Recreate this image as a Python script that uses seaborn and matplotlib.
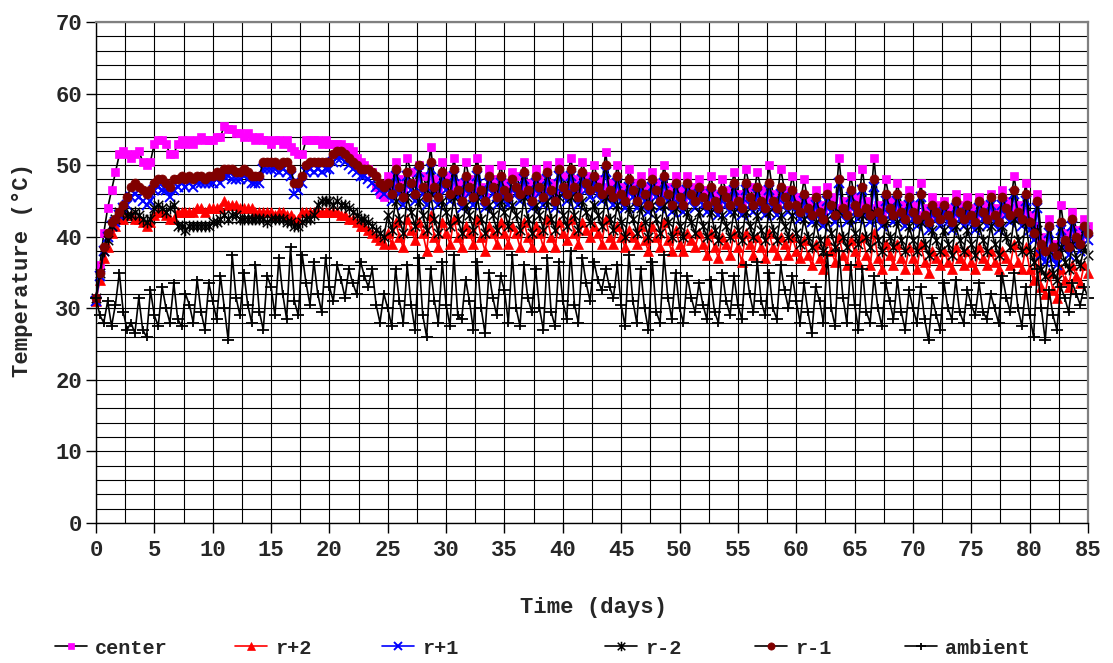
import numpy as np
import pandas as pd
import matplotlib
matplotlib.use("Agg")
import matplotlib.pyplot as plt
from matplotlib.path import Path
from matplotlib.ticker import MultipleLocator
import seaborn as sns

# Readings taken every 8 hours (3 per day) over 85 days, in deg C
SAMPLES_PER_DAY = 3

center = [
    31.5, 36.0, 40.5, 44.0, 46.5, 49.0, 51.5, 52.0, 51.5, 51.0, 51.5, 52.0,
    50.5, 50.0, 50.5, 53.0, 53.5, 53.5, 53.0, 51.5, 51.5, 53.0, 53.5, 53.0,
    53.5, 53.0, 53.5, 54.0, 53.5, 53.5, 53.5, 54.0, 54.0, 55.5, 55.0, 55.0,
    54.5, 54.5, 54.0, 54.5, 54.0, 53.5, 54.0, 53.5, 53.5, 53.0, 53.5, 53.5,
    53.0, 53.5, 52.5, 52.0, 51.5, 51.5, 53.5, 53.5, 53.5, 53.5, 53.0, 53.5,
    53.0, 53.0, 53.0, 53.0, 52.5, 52.5, 52.0, 51.0, 50.5, 50.0, 49.5, 49.0,
    47.0, 46.0, 45.5, 48.5, 47.0, 50.5, 48.0, 46.5, 51.0, 49.0, 47.5, 50.0,
    48.5, 47.0, 52.5, 48.0, 46.5, 50.5, 48.5, 47.0, 51.0, 47.5, 46.0, 50.5,
    48.0, 46.5, 51.0, 47.0, 45.5, 49.5, 48.0, 46.5, 50.0, 47.5, 46.5, 49.0,
    48.5, 47.0, 50.5, 47.5, 46.0, 49.5, 48.0, 46.5, 50.0, 47.5, 46.0, 50.5,
    48.5, 47.0, 51.0, 48.0, 46.5, 50.5, 48.5, 47.5, 50.0, 48.0, 47.0, 51.8,
    47.5, 46.5, 50.0, 47.0, 46.0, 49.5, 47.5, 46.0, 48.5, 47.0, 45.5, 49.0,
    47.5, 46.0, 50.0, 47.0, 45.5, 48.5, 46.5, 45.5, 48.5, 47.0, 46.0, 48.0,
    46.5, 45.5, 48.5, 46.0, 45.0, 48.0, 46.5, 45.5, 49.0, 46.0, 45.0, 49.5,
    47.0, 45.5, 49.0, 46.5, 45.5, 50.0, 46.0, 45.0, 49.5, 46.5, 45.5, 48.5,
    45.5, 44.5, 48.0, 45.0, 44.0, 46.5, 44.5, 43.5, 47.0, 45.5, 44.0, 51.0,
    45.0, 44.0, 48.5, 45.5, 44.5, 49.5, 45.0, 44.0, 51.0, 44.5, 43.5, 48.0,
    45.0, 44.0, 47.5, 44.5, 43.5, 46.5, 44.5, 43.0, 47.5, 44.0, 43.0, 45.5,
    44.5, 43.5, 45.0, 44.0, 43.0, 46.0, 44.5, 43.5, 45.5, 44.0, 43.0, 45.5,
    44.5, 43.5, 46.0, 44.0, 43.0, 46.5, 45.0, 44.0, 48.5, 44.5, 43.5, 47.5,
    43.0, 41.5, 46.0, 40.0, 38.0, 42.5, 39.0, 38.0, 44.5, 40.5, 39.0, 43.5,
    41.0, 40.0, 42.5, 41.5,
]

r_plus_2 = [
    31.0, 34.0, 37.0, 38.5, 40.5, 41.5, 42.5, 42.5, 43.0, 43.0, 42.5, 42.5,
    42.0, 41.5, 42.0, 43.0, 43.5, 43.5, 43.0, 42.5, 42.5, 43.5, 43.5, 43.5,
    43.5, 43.5, 44.0, 44.0, 43.5, 44.0, 44.0, 44.0, 44.0, 45.0, 44.5, 44.5,
    44.5, 44.0, 44.0, 44.0, 44.0, 43.5, 43.5, 43.5, 43.5, 43.5, 43.0, 43.5,
    43.5, 43.0, 43.0, 42.5, 42.5, 43.5, 43.5, 43.5, 43.5, 43.5, 43.5, 43.5,
    43.5, 43.5, 43.5, 43.0, 43.0, 42.5, 42.5, 42.0, 41.5, 41.5, 41.0, 40.5,
    40.0, 39.5, 39.0, 40.5, 39.0, 42.0, 40.0, 38.5, 42.5, 41.0, 39.5, 42.0,
    40.5, 38.0, 43.0, 40.0, 38.5, 42.0, 40.5, 39.0, 42.5, 40.0, 38.5, 41.5,
    40.5, 39.0, 42.5, 40.0, 38.0, 41.5, 40.5, 39.0, 42.0, 40.5, 39.0, 41.5,
    40.5, 38.5, 42.0, 40.0, 38.5, 41.5, 40.5, 38.5, 42.5, 40.0, 38.5, 42.0,
    40.5, 39.5, 42.5, 40.5, 39.0, 42.0, 41.0, 40.0, 41.5, 40.5, 39.0, 42.5,
    40.0, 39.0, 41.5, 40.0, 38.5, 41.0, 40.0, 39.0, 41.5, 39.5, 38.0, 41.5,
    40.0, 38.5, 42.0, 39.5, 38.0, 41.0, 39.0, 38.0, 40.5, 39.5, 38.5, 40.5,
    39.0, 37.5, 40.5, 38.5, 37.0, 40.0, 39.0, 37.5, 40.5, 38.5, 36.5, 40.5,
    39.0, 37.5, 40.0, 38.5, 37.0, 40.5, 38.5, 37.5, 40.0, 39.0, 37.5, 40.0,
    38.0, 37.0, 39.5, 37.5, 36.0, 39.0, 37.0, 35.5, 39.5, 38.0, 36.5, 40.0,
    37.5, 36.0, 39.5, 38.0, 36.5, 40.0, 37.5, 36.0, 40.5, 37.0, 35.5, 39.0,
    37.5, 36.0, 39.0, 37.0, 35.5, 38.5, 37.0, 35.5, 39.0, 36.5, 35.0, 38.0,
    37.0, 36.0, 38.0, 36.5, 35.5, 38.5, 37.0, 36.0, 38.0, 36.5, 35.5, 38.5,
    37.0, 36.0, 38.0, 36.5, 35.5, 38.0, 37.0, 36.0, 39.0, 36.5, 35.5, 38.5,
    35.5, 34.0, 38.0, 33.0, 32.0, 35.0, 32.5, 31.5, 35.5, 34.0, 33.0, 36.0,
    34.5, 33.5, 36.0, 35.0,
]

r_plus_1 = [
    31.0, 34.5, 38.0, 40.0, 41.5, 42.0, 43.0, 44.0, 44.5, 45.5, 46.0, 45.5,
    45.0, 44.5, 45.0, 46.5, 47.0, 46.5, 46.5, 45.5, 46.5, 47.0, 47.5, 47.0,
    47.5, 47.0, 47.5, 47.5, 47.5, 47.5, 47.5, 48.0, 47.5, 48.5, 48.5, 48.0,
    48.0, 48.0, 48.5, 48.0, 47.5, 47.5, 47.5, 49.5, 49.5, 49.5, 49.5, 49.0,
    49.5, 49.0, 48.5, 46.0, 46.5, 47.5, 49.0, 49.5, 49.0, 49.5, 49.0, 49.5,
    49.5, 50.5, 51.0, 51.0, 50.5, 50.0, 49.5, 49.0, 48.5, 48.5, 48.0, 47.5,
    47.0, 46.5, 46.0, 46.5, 45.0, 48.5, 46.0, 44.5, 48.5, 46.5, 45.0, 49.0,
    46.0, 44.5, 49.5, 46.0, 44.5, 48.0, 46.5, 45.0, 48.5, 45.5, 44.0, 47.5,
    46.0, 44.5, 48.5, 45.5, 44.0, 47.5, 46.0, 44.5, 47.5, 45.5, 44.5, 47.0,
    46.0, 45.0, 48.0, 45.5, 44.0, 47.5, 46.0, 44.5, 48.0, 45.5, 44.0, 48.5,
    46.0, 45.0, 48.5, 46.0, 44.5, 48.0, 46.5, 45.5, 47.5, 46.0, 45.0, 49.0,
    45.5, 44.5, 47.5, 45.0, 44.0, 47.0, 45.5, 44.0, 46.5, 45.0, 43.5, 47.0,
    45.5, 44.0, 47.5, 45.0, 43.5, 46.5, 44.5, 43.5, 46.5, 45.0, 44.0, 46.0,
    44.5, 43.5, 46.0, 44.0, 43.0, 45.5, 44.5, 43.5, 46.5, 44.0, 43.0, 46.5,
    44.5, 43.5, 46.0, 44.0, 43.0, 46.5, 44.0, 43.0, 46.0, 44.5, 43.5, 45.5,
    43.5, 42.5, 45.0, 43.0, 42.0, 44.5, 42.5, 41.5, 45.0, 43.5, 42.0, 47.5,
    43.0, 42.0, 45.5, 43.5, 42.5, 46.5, 43.0, 42.0, 47.0, 42.5, 41.5, 45.0,
    43.0, 42.0, 45.0, 42.5, 41.5, 44.5, 42.5, 41.5, 45.5, 42.0, 41.0, 43.5,
    42.5, 41.5, 43.5, 42.0, 41.0, 44.0, 42.5, 41.5, 43.5, 42.0, 41.0, 44.0,
    42.5, 41.5, 44.5, 42.0, 41.0, 44.5, 43.0, 42.0, 46.0, 42.5, 41.5, 45.0,
    41.0, 39.5, 44.0, 37.5, 36.5, 40.5, 37.0, 36.0, 41.0, 38.5, 37.5, 41.5,
    39.0, 38.0, 40.5, 39.5,
]

r_minus_2 = [
    31.5, 35.0, 38.0, 39.5, 41.5, 42.5, 43.5, 43.5, 43.0, 43.0, 43.5, 43.0,
    42.5, 42.0, 42.5, 44.0, 44.5, 44.0, 43.5, 44.0, 44.5, 41.5, 41.5, 41.0,
    41.5, 41.5, 41.5, 41.5, 41.5, 41.5, 42.0, 42.0, 42.5, 43.0, 42.5, 43.0,
    43.0, 42.5, 42.5, 42.5, 42.5, 42.5, 42.5, 42.5, 42.0, 42.5, 42.5, 42.5,
    42.5, 42.0, 42.0, 41.5, 41.5, 42.0, 42.5, 42.5, 43.0, 44.5, 45.0, 45.0,
    45.0, 44.5, 45.0, 44.5, 44.5, 44.0, 43.5, 43.0, 42.5, 42.5, 42.0, 41.5,
    41.0, 40.5, 40.0, 43.0, 41.0, 45.0, 42.5, 40.5, 45.5, 43.5, 41.5, 45.0,
    43.0, 41.0, 46.0, 42.5, 40.5, 45.0, 43.5, 41.5, 45.5, 42.5, 40.5, 44.5,
    43.0, 41.0, 45.5, 42.5, 40.5, 44.5, 43.0, 41.0, 45.0, 43.5, 41.5, 44.5,
    43.0, 41.0, 45.5, 42.5, 40.5, 44.5, 43.0, 41.0, 45.0, 42.5, 41.0, 45.5,
    43.0, 41.5, 45.5, 43.0, 41.0, 45.0, 43.5, 42.0, 44.5, 43.0, 41.5, 45.5,
    42.5, 41.0, 44.5, 42.0, 40.0, 44.0, 42.5, 40.5, 44.0, 42.0, 40.0, 44.5,
    42.5, 40.5, 44.5, 42.0, 40.0, 44.0, 41.5, 40.0, 43.5, 42.0, 40.5, 43.5,
    41.5, 40.0, 43.5, 41.0, 39.5, 43.0, 41.5, 40.0, 43.5, 41.0, 39.5, 43.5,
    41.5, 40.0, 43.0, 41.0, 39.5, 43.5, 41.0, 39.5, 43.0, 41.5, 40.0, 43.0,
    40.5, 39.0, 42.5, 40.0, 38.5, 42.0, 39.5, 38.0, 42.5, 40.5, 38.5, 43.5,
    40.0, 38.5, 42.5, 40.5, 39.0, 43.0, 40.0, 38.5, 43.5, 39.5, 38.0, 42.0,
    40.0, 38.5, 42.0, 39.5, 38.0, 41.5, 39.5, 38.0, 42.0, 39.0, 37.5, 41.0,
    39.5, 38.0, 41.0, 39.0, 37.5, 41.5, 39.5, 38.0, 41.0, 39.0, 37.5, 41.5,
    39.5, 38.0, 41.5, 39.0, 37.5, 41.5, 40.0, 38.5, 42.5, 39.5, 38.0, 42.0,
    38.0, 36.5, 41.0, 35.5, 34.5, 38.0, 35.0, 34.0, 38.5, 36.5, 35.5, 39.0,
    37.0, 36.0, 38.5, 37.5,
]

r_minus_1 = [
    31.5, 35.0, 38.5, 40.5, 42.0, 42.5, 43.5, 44.5, 45.5, 47.0, 47.5, 47.0,
    46.5, 46.0, 46.5, 47.5, 48.0, 48.0, 47.5, 47.0, 48.0, 48.0, 48.5, 48.0,
    48.5, 48.0, 48.5, 48.5, 48.0, 48.5, 48.5, 49.0, 48.5, 49.5, 49.5, 49.5,
    49.0, 49.0, 49.5, 49.0, 48.5, 48.5, 48.5, 50.5, 50.5, 50.5, 50.5, 50.0,
    50.5, 50.5, 49.5, 47.5, 47.5, 48.5, 50.0, 50.5, 50.5, 50.5, 50.5, 50.5,
    50.5, 51.5, 52.0, 52.0, 51.5, 51.0, 50.5, 50.0, 49.5, 49.5, 49.5, 49.0,
    48.5, 47.5, 47.0, 47.5, 46.0, 49.5, 47.0, 45.5, 49.0, 47.5, 46.0, 50.0,
    47.0, 45.5, 50.5, 47.0, 45.5, 49.0, 47.5, 46.0, 49.5, 46.5, 45.0, 48.5,
    47.0, 45.5, 49.5, 46.5, 45.0, 48.5, 47.0, 45.5, 48.5, 46.5, 45.5, 48.0,
    47.0, 46.0, 49.0, 46.5, 45.0, 48.5, 47.0, 45.5, 49.0, 46.5, 45.0, 49.5,
    47.0, 46.0, 49.5, 47.0, 45.5, 49.0, 47.5, 46.5, 48.5, 47.0, 46.0, 50.0,
    46.5, 45.5, 48.5, 46.0, 45.0, 48.0, 46.5, 45.0, 47.5, 46.0, 44.5, 48.0,
    46.5, 45.0, 48.5, 46.0, 44.5, 47.5, 45.5, 44.5, 47.5, 46.0, 45.0, 47.0,
    45.5, 44.5, 47.0, 45.0, 44.0, 46.5, 45.5, 44.5, 47.5, 45.0, 44.0, 47.5,
    45.5, 44.5, 47.0, 45.0, 44.0, 47.5, 45.0, 44.0, 47.0, 45.5, 44.5, 46.5,
    44.5, 43.5, 46.0, 44.0, 43.0, 45.5, 43.5, 42.5, 46.0, 44.5, 43.0, 48.0,
    44.0, 43.0, 46.5, 44.5, 43.5, 47.0, 44.0, 43.0, 48.0, 43.5, 42.5, 46.0,
    44.0, 43.0, 46.0, 43.5, 42.5, 45.5, 43.5, 42.5, 46.0, 43.0, 42.0, 44.5,
    43.5, 42.5, 44.5, 43.0, 42.0, 45.0, 43.5, 42.5, 44.5, 43.0, 42.0, 45.0,
    43.5, 42.5, 45.5, 43.0, 42.0, 45.5, 44.0, 43.0, 46.5, 43.5, 42.5, 46.0,
    42.0, 40.5, 45.0, 39.0, 38.0, 41.5, 38.5, 37.5, 42.0, 39.5, 38.5, 42.5,
    40.0, 39.0, 41.5, 40.5,
]

ambient = [
    31.5, 29.0, 28.0, 31.0, 27.5, 30.5, 35.0, 29.5, 27.0, 28.0, 26.5, 31.5,
    27.0, 26.0, 32.5, 29.0, 27.5, 33.0, 30.0, 28.0, 33.5, 28.5, 27.5, 32.0,
    30.5, 28.0, 34.0, 29.5, 27.0, 33.5, 31.0, 28.5, 34.5, 30.0, 25.5, 37.5,
    31.5, 29.0, 35.0, 30.5, 28.0, 36.0, 29.5, 27.0, 34.5, 33.0, 29.0, 37.0,
    32.0, 28.5, 38.5, 31.0, 29.0, 37.5, 33.5, 30.5, 36.5, 32.0, 29.5, 37.0,
    33.0, 31.0, 36.0, 34.0, 31.5, 35.5, 33.5, 32.0, 36.5, 34.5, 33.0, 35.5,
    30.5, 28.0, 32.0, 30.0, 27.5, 35.5, 31.0, 28.0, 36.0, 30.5, 27.0, 37.0,
    29.0, 26.0, 35.5, 31.0, 28.0, 36.5, 30.5, 27.5, 37.5, 29.0, 28.5, 34.0,
    31.0, 27.0, 36.5, 30.0, 26.5, 35.0, 31.5, 29.0, 34.5, 32.5, 28.0, 37.5,
    30.0, 27.5, 36.0, 31.5, 29.5, 35.5, 30.0, 27.0, 37.0, 29.5, 27.5, 36.5,
    31.0, 28.5, 38.0, 30.5, 28.0, 37.0, 33.5, 31.0, 36.5, 34.0, 32.5, 35.5,
    33.0, 31.5, 36.0, 30.5, 27.5, 37.5, 31.0, 28.0, 35.5, 30.0, 27.0, 36.5,
    29.5, 28.0, 37.5, 31.5, 28.5, 35.0, 30.0, 28.0, 34.5, 31.5, 29.5, 33.5,
    30.5, 28.5, 34.0, 29.5, 28.0, 35.0, 31.0, 29.0, 34.5, 30.5, 28.5, 36.0,
    32.0, 29.5, 36.5, 31.0, 29.0, 35.0, 30.0, 28.5, 36.0, 32.5, 30.0, 34.5,
    31.0, 28.0, 33.5, 29.5, 26.5, 33.0, 31.0, 28.0, 37.5, 30.0, 27.5, 38.0,
    31.5, 28.0, 36.0, 30.5, 27.0, 35.5, 29.5, 28.0, 34.5, 30.0, 27.5, 33.5,
    31.0, 28.5, 34.0, 29.5, 27.0, 32.5, 30.0, 28.0, 33.0, 28.5, 25.5, 31.5,
    29.0, 27.0, 33.5, 30.0, 28.5, 34.0, 29.5, 28.0, 32.5, 30.5, 29.0, 33.5,
    29.5, 28.5, 32.0, 30.0, 28.0, 34.5, 31.5, 29.5, 35.0, 30.0, 27.5, 33.0,
    29.0, 26.0, 35.5, 30.0, 25.5, 32.5, 29.0, 27.0, 33.0, 31.5, 29.5, 33.5,
    32.0, 30.5, 33.0, 31.5,
]

series_labels = ["center", "r+2", "r+1", "r-2", "r-1", "ambient"]
x_ticks = list(range(0, 90, 5))
y_ticks = list(range(0, 80, 10))

time_days = np.arange(len(center)) / SAMPLES_PER_DAY
df = pd.DataFrame({
    "time": time_days,
    "center": center,
    "r+2": r_plus_2,
    "r+1": r_plus_1,
    "r-2": r_minus_2,
    "r-1": r_minus_1,
    "ambient": ambient,
})

sns.set_theme(style="white")
plt.rcParams["font.family"] = ["Liberation Mono", "DejaVu Sans Mono"]
plt.rcParams["font.weight"] = "bold"

# Marker shapes: asterisk (X plus vertical bar) and a wide plus
M, L = Path.MOVETO, Path.LINETO
asterisk = Path([(-1, -1), (1, 1), (-1, 1), (1, -1), (0, -1.25), (0, 1.25)],
                [M, L, M, L, M, L])
wide_plus = Path([(-1, 0), (1, 0), (0, -0.7), (0, 0.7)], [M, L, M, L])

styles = {
    "center": dict(color="black", marker="s", markerfacecolor="#FF00FF",
                   markeredgecolor="#FF00FF", markersize=6, markeredgewidth=0.5),
    "r+2": dict(color="#FF0000", marker="^", markerfacecolor="#FF0000",
                markeredgecolor="#FF0000", markersize=6.5, markeredgewidth=0.5),
    "r+1": dict(color="#0000FF", marker="x", markeredgecolor="#0000FF",
                markersize=7, markeredgewidth=1.4),
    "r-2": dict(color="black", marker=asterisk, markeredgecolor="black",
                markersize=8.5, markeredgewidth=1.1),
    "r-1": dict(color="black", marker="o", markerfacecolor="#800000",
                markeredgecolor="#800000", markersize=6.5, markeredgewidth=0.5),
    "ambient": dict(color="black", marker=wide_plus, markeredgecolor="black",
                    markersize=9, markeredgewidth=1.3),
}

fig = plt.figure(figsize=(11.13, 6.63), dpi=100)
ax = fig.add_axes([96 / 1113, 1 - 523 / 663, 992 / 1113, 501 / 663])

handles = []
for name in series_labels:
    sns.lineplot(data=df, x="time", y=name, ax=ax, estimator=None, sort=False,
                 legend=False, linewidth=1.2, clip_on=False, **styles[name])
    handles.append(ax.lines[-1])

ax.set_xlim(0, 85)
ax.set_ylim(0, 70)
ax.set_xticks(x_ticks)
ax.set_yticks(y_ticks)
ax.xaxis.set_minor_locator(MultipleLocator(2.5))
ax.yaxis.set_minor_locator(MultipleLocator(2))
ax.set_axisbelow(True)
ax.grid(which="both", color="black", linewidth=0.8)

ax.tick_params(axis="both", which="major", direction="out", length=7,
               width=1, color="black", labelsize=16, bottom=True, left=True)
ax.tick_params(axis="x", which="major", pad=5)
ax.tick_params(axis="y", which="major", pad=3)
ax.tick_params(which="minor", length=0)

for side in ("left", "bottom"):
    ax.spines[side].set_color("black")
    ax.spines[side].set_linewidth(1.0)
for side in ("top", "right"):
    ax.spines[side].set_color("#808080")
    ax.spines[side].set_linewidth(1.6)

ax.set_xlabel("Time (days)", fontsize=16, fontweight="bold")
ax.xaxis.label.set_va("center")
ax.xaxis.set_label_coords(0.502, -0.168)
ax.set_ylabel("Temperature (°C)", fontsize=16, fontweight="bold")
ax.yaxis.label.set_va("center")
ax.yaxis.set_label_coords(-0.0746, 0.505)

# One legend entry per series, laid out in a row under the axis title
legend_x_px = [55, 235, 382, 605, 755, 905]
for h, label, xp in zip(handles, series_labels, legend_x_px):
    fig.legend([h], [label], loc="center left",
               bbox_to_anchor=(xp / 1113, 1 - 648 / 663),
               frameon=False, fontsize=14.5, handlelength=1.6,
               handletextpad=0.4, borderpad=0, borderaxespad=0, numpoints=1,
               markerscale=0.8)

fig.savefig("out.png", dpi=100)
